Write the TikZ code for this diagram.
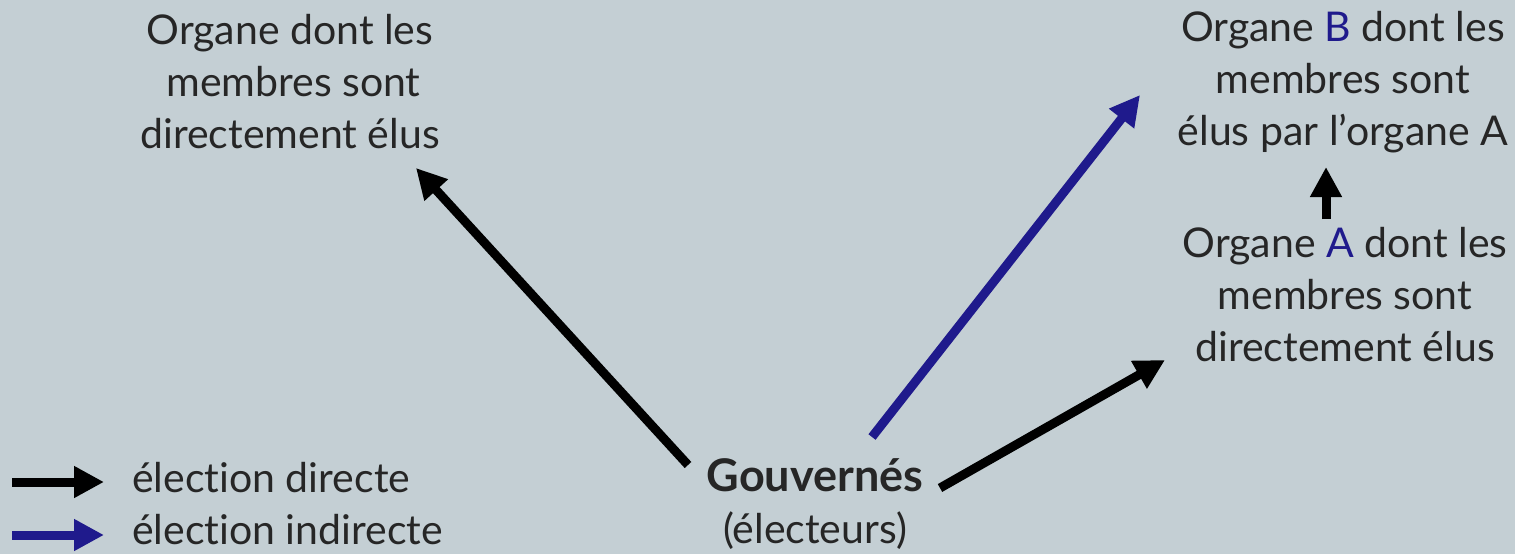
\documentclass[tikz,border=0pt]{standalone}
\usepackage{fontspec}
\setmainfont{Lato}[Ligatures=NoCommon]
\usetikzlibrary{arrows.meta}
\definecolor{bg}{HTML}{C4CFD4}
\definecolor{txt}{HTML}{262626}
\definecolor{ind}{HTML}{1F1A8C}
\tikzset{
  lbl/.style={text=txt, font=\fontsize{41}{52}\selectfont, align=center, inner sep=0pt},
  dirarrow/.style={draw=black, line width=9pt, -{Triangle[length=30pt,width=30pt]}},
  indarrow/.style={draw=ind, line width=9pt, -{Triangle[length=30pt,width=30pt]}},
}
\begin{document}
\begin{tikzpicture}[x=1pt,y=-1pt]
\fill[bg] (0,0) rectangle (1515,554);
\useasboundingbox (0,0) rectangle (1515,554);
% texts
\node[lbl] (left) at (290,82) {Organe dont les\\ \,membres sont\\directement élus};
\node[lbl] (orgB) at (1343,82) {Organe {\color{ind}B} dont les\\ membres sont\\élus par l’organe A};
\node[lbl] (orgA) at (1345,295) {Organe {\color{ind}A} dont les\\ membres sont\\directement élus};
\node[lbl] (gouv) at (815,504) {{\fontsize{45}{52}\selectfont\bfseries Gouvernés}\\(électeurs)};
\node[lbl, anchor=west] (ld) at (132,478) {élection directe};
\node[lbl, anchor=west] (li) at (132,530) {élection indirecte};
% endpoints
\coordinate (s1) at (688,465);
\coordinate (e1) at (416,168);
\coordinate (s2) at (872,437);
\coordinate (e2) at (1140,95);
\coordinate (s3) at (940,488);
\coordinate (e3) at (1165,360);
\coordinate (s4) at (1326,219);
\coordinate (e4) at (1326,167);
\coordinate (l1s) at (12,482);
\coordinate (l1e) at (104,482);
\coordinate (l2s) at (12,535);
\coordinate (l2e) at (104,535);
\draw[dirarrow] (s1) -- (e1);
\draw[indarrow] (s2) -- (e2);
\draw[dirarrow] (s3) -- (e3);
\draw[dirarrow] (s4) -- (e4);
\draw[dirarrow] (l1s) -- (l1e);
\draw[indarrow] (l2s) -- (l2e);
\end{tikzpicture}
\end{document}
